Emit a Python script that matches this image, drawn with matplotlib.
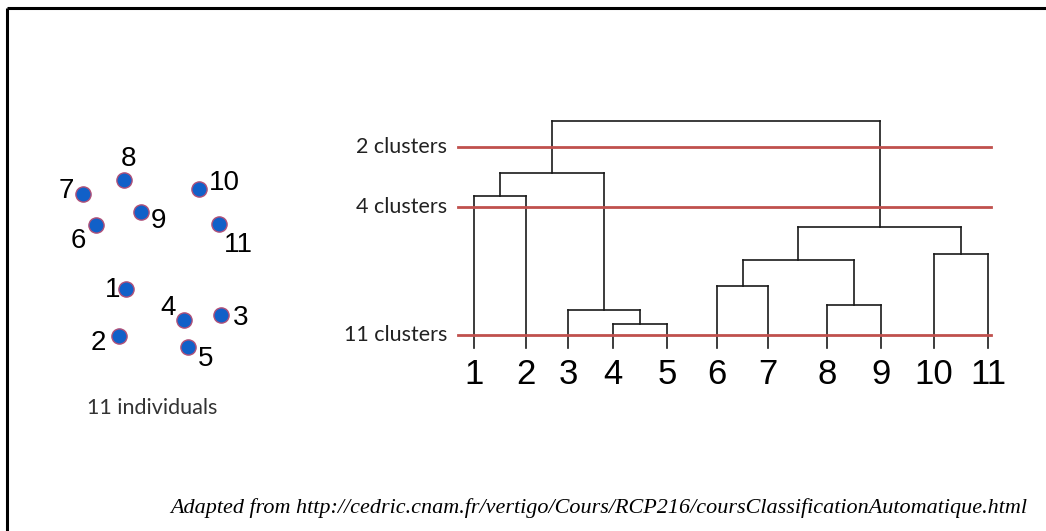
import matplotlib
matplotlib.use("Agg")
import matplotlib.pyplot as plt

# --- data (pixel-like units) ---
# individuals scatter
ind_labels = ["1", "2", "3", "4", "5", "6", "7", "8", "9", "10", "11"]
ind_x = [126, 119, 221, 184, 188, 96, 83, 124, 141, 199, 219]
ind_y = [289, 336, 315, 320, 347, 225, 194, 180, 212, 189, 224]
lab_x = [113, 98, 241, 168, 206, 78, 66, 129, 159, 224, 238]
lab_y = [290, 343, 318, 308, 359, 241, 191, 159, 221, 183, 245]

# dendrogram: leaf order / positions and merges (left, right, height above baseline)
leaf_names = ["1", "2", "3", "4", "5", "6", "7", "8", "9", "10", "11"]
leaf_pos = [474, 526, 568, 613, 667, 717, 768, 827, 881, 934, 988]
merges = [
    (4, 5, 24),     # 12
    (3, 12, 38),    # 13
    (8, 9, 43),     # 14
    (6, 7, 62),     # 15
    (15, 14, 88),   # 16
    (10, 11, 94),   # 17
    (16, 17, 121),  # 18
    (1, 2, 152),    # 19
    (19, 13, 175),  # 20
    (20, 18, 227),  # 21
]
cut_names = ["2 clusters", "4 clusters", "11 clusters"]
cut_heights = [201, 141, 13]

base_y = 348  # pixel row of the dendrogram baseline

fig = plt.figure(figsize=(10.46, 5.31), dpi=100)
ax = fig.add_axes([0, 0, 1, 1])
ax.set_xlim(0, 1046)
ax.set_ylim(531, 0)
ax.axis("off")

# frame lines (top and left)
ax.plot([6.5, 1046], [8, 8], color="black", lw=2.2, solid_capstyle="butt")
ax.plot([6.5, 6.5], [8, 531], color="black", lw=2.2, solid_capstyle="butt")

# scatter of individuals
ax.scatter(ind_x, ind_y, s=120, c="#1160c8", edgecolors="#b05078", linewidths=1.0, zorder=3)
for t, x, y in zip(ind_labels, lab_x, lab_y):
    ax.text(x, y, t, fontsize=20, family="Liberation Sans", ha="center", va="center")
ax.text(152, 408, "11 individuals", fontsize=15.5, family="Lato", color="#333333",
        ha="center", va="center")

# dendrogram
pos = {i + 1: p for i, p in enumerate(leaf_pos)}
hgt = {i + 1: 0 for i in range(len(leaf_pos))}
for k, (a, b, h) in enumerate(merges):
    nid = len(leaf_pos) + 1 + k
    for c in (a, b):
        ax.plot([pos[c], pos[c]], [base_y - hgt[c], base_y - h], color="#1a1a1a", lw=1.2)
    ax.plot([pos[a], pos[b]], [base_y - h, base_y - h], color="#1a1a1a", lw=1.2)
    pos[nid] = (pos[a] + pos[b]) / 2
    hgt[nid] = h

for name, h in zip(cut_names, cut_heights):
    ax.plot([458, 991], [base_y - h, base_y - h], color="#c0504d", lw=2.0, zorder=4)
    ax.text(447, base_y - h, name, fontsize=15.5, family="Lato", color="#222222",
            ha="right", va="center")

for name, x in zip(leaf_names, leaf_pos):
    ax.text(x, 374, name, fontsize=25, family="Liberation Sans", ha="center", va="center")

ax.text(599, 508, "Adapted from http://cedric.cnam.fr/vertigo/Cours/RCP216/coursClassificationAutomatique.html",
        fontsize=15.9, family="Liberation Serif", style="italic", ha="center", va="center")

fig.savefig("out.png", dpi=100)
